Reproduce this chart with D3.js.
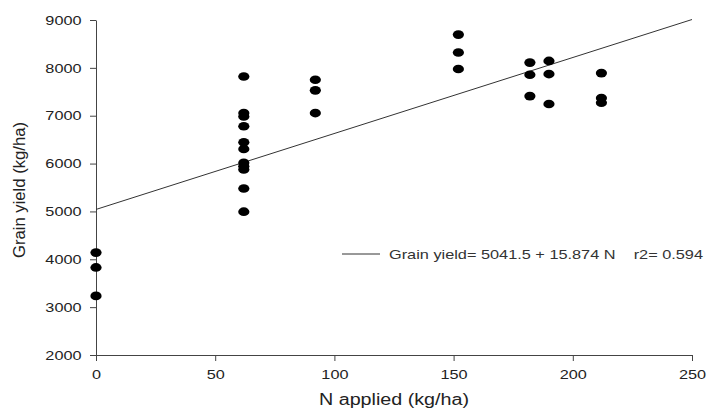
<!DOCTYPE html>
<html lang="en">
<head>
	<meta charset="UTF-8">
	<title>Grain yield vs N applied</title>
	<style>
		* { margin: 0; box-sizing: border-box; }
		body { width: 707px; height: 410px; background: white; overflow: hidden; }
		svg { display: block; font-family: "Liberation Sans", Arial, sans-serif; }
		.axis path, .axis line { stroke: #444; }
		.axis text { fill: #222; font-size: 13px; }
	</style>
</head>
<body>
	<svg id="chart" width="707" height="410"></svg>
</body>

<script src="https://cdn.jsdelivr.net/npm/d3@7"></script>

<script>

	// data
	const nApplied = [0, 0, 0,
		62, 62, 62, 62, 62, 62, 62, 62, 62, 62, 62,
		92, 92, 92,
		152, 152, 152,
		182, 182, 182,
		190, 190, 190,
		212, 212, 212];
	const grainYield = [4140, 3830, 3235,
		7820, 7055, 6985, 6780, 6445, 6305, 6015, 5945, 5875, 5480, 4995,
		7750, 7530, 7055,
		8695, 8320, 7975,
		8110, 7855, 7410,
		8145, 7870, 7245,
		7890, 7370, 7270];
	const xTicks = [0, 50, 100, 150, 200, 250];
	const yTicks = [2000, 3000, 4000, 5000, 6000, 7000, 8000, 9000];
	const intercept = 5041.5;
	const slope = 15.874;
	const legendText = "Grain yield= 5041.5 + 15.874 N    r2= 0.594";
	// data end

	const width = 707;
	const height = 410;
	const margin = {top: 20, right: 15, bottom: 55, left: 96};
	const stretch = 1.25; // the source figure is a bit wide

	const svg = d3.select("#chart");

	const x = d3.scaleLinear().domain([0, 250]).range([margin.left, width - margin.right]);
	const y = d3.scaleLinear().domain([2000, 9000]).range([height - margin.bottom, margin.top]);

	svg.append("g")
		.attr("class", "axis")
		.attr("transform", `translate(0,${height - margin.bottom})`)
		.call(d3.axisBottom(x).tickValues(xTicks).tickFormat(d3.format("d"))
			.tickSize(6).tickSizeOuter(0).tickPadding(9))
		.selectAll("text")
		.attr("transform", `scale(${stretch},1)`);

	svg.append("g")
		.attr("class", "axis")
		.attr("transform", `translate(${margin.left},0)`)
		.call(d3.axisLeft(y).tickValues(yTicks).tickFormat(d3.format("d"))
			.tickSize(6).tickSizeOuter(0).tickPadding(5.6))
		.selectAll("text")
		.attr("transform", `scale(${stretch},1)`);

	// regression line
	svg.append("line")
		.attr("x1", x(0))
		.attr("y1", y(intercept))
		.attr("x2", x(250))
		.attr("y2", y(intercept + slope * 250))
		.attr("stroke", "#333")
		.attr("stroke-width", 1);

	// points
	svg.append("g")
		.selectAll("ellipse")
		.data(nApplied.map((d, i) => ({n: d, g: grainYield[i]})))
		.join("ellipse")
		.attr("cx", d => x(d.n))
		.attr("cy", d => y(d.g))
		.attr("rx", 5.6)
		.attr("ry", 4.3)
		.attr("fill", "black");

	// legend
	const legend = svg.append("g").attr("transform", `translate(342,254)`);
	legend.append("line")
		.attr("x1", 0).attr("x2", 38)
		.attr("y1", 0).attr("y2", 0)
		.attr("stroke", "#333");
	legend.append("text")
		.attr("x", 47)
		.attr("y", 4.7)
		.attr("font-size", 13)
		.attr("fill", "#333")
		.attr("textLength", 314)
		.attr("lengthAdjust", "spacingAndGlyphs")
		.style("white-space", "pre")
		.text(legendText);

	// axis titles
	svg.append("text")
		.attr("x", (x(0) + x(250)) / 2)
		.attr("y", 405)
		.attr("text-anchor", "middle")
		.attr("font-size", 16)
		.attr("fill", "#222")
		.attr("textLength", 150)
		.attr("lengthAdjust", "spacingAndGlyphs")
		.text("N applied (kg/ha)");

	svg.append("text")
		.attr("transform", `translate(25,190) rotate(-90)`)
		.attr("text-anchor", "middle")
		.attr("font-size", 16)
		.attr("fill", "#222")
		.attr("textLength", 136)
		.attr("lengthAdjust", "spacingAndGlyphs")
		.text("Grain yield (kg/ha)");

</script>
</html>
